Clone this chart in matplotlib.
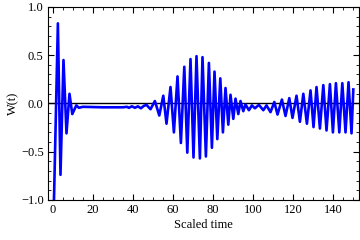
import matplotlib
matplotlib.use("Agg")
import matplotlib.pyplot as plt
from matplotlib.ticker import MultipleLocator

# scaled time and W(t) (extrema and a few in-between points)
t_vals = [0.5, 2.5, 3.8, 5.3, 6.8, 8.3, 9.7, 11.7, 13.0, 15.0, 25.0, 35.0,
          37.0, 38.0, 39.5, 41.0, 42.5, 44.0, 45.5, 46.8, 48.8, 51.0, 53.2,
          55.2, 56.8, 58.8, 60.5, 62.3, 64.0, 65.7, 67.2, 68.8, 70.3, 71.8,
          73.5, 74.8, 76.5, 78.0, 79.5, 80.8, 82.2, 83.7, 85.0, 86.3, 87.7,
          88.8, 90.2, 91.3, 92.7, 93.8, 95.2, 96.3, 98.0, 99.5, 101.0, 103.0,
          105.2, 106.8, 108.8, 110.7, 112.3, 114.5, 116.3, 118.2, 119.8, 121.8,
          123.5, 125.2, 127.0, 128.8, 130.3, 131.8, 133.5, 135.2, 136.8, 138.5,
          140.0, 141.5, 143.2, 144.7, 146.3, 147.8, 149.3, 150.2]
w_vals = [-1.05, 0.83, -0.74, 0.45, -0.31, 0.10, -0.11, -0.02, -0.045, -0.035, -0.04, -0.04,
          -0.035, -0.045, -0.03, -0.045, -0.03, -0.05, -0.025, -0.015, -0.06, 0.025, -0.125,
          0.08, -0.21, 0.17, -0.30, 0.28, -0.41, 0.38, -0.51, 0.46, -0.56, 0.49,
          -0.57, 0.48, -0.55, 0.42, -0.46, 0.33, -0.37, 0.26, -0.30, 0.16, -0.22,
          0.09, -0.16, 0.05, -0.11, 0.025, -0.08, -0.01, -0.07, -0.02, -0.05, -0.015,
          -0.07, -0.02, -0.09, 0.015, -0.115, 0.04, -0.13, 0.055, -0.15, 0.08,
          -0.19, 0.10, -0.21, 0.135, -0.245, 0.17, -0.26, 0.19, -0.28, 0.20,
          -0.30, 0.21, -0.30, 0.21, -0.30, 0.22, -0.31, 0.145]

plt.rcParams['font.family'] = ['Liberation Serif', 'DejaVu Serif']

fig = plt.figure(figsize=(3.6, 2.4), dpi=100)
ax = fig.add_axes([0.133, 0.167, 0.864, 0.804])

ax.axhline(0, color='k', lw=1.0, zorder=1)
ax.plot(t_vals, w_vals, color='#0000ff', lw=1.9, solid_joinstyle='round', zorder=2)

ax.set_xlim(-2.5, 153)
ax.set_ylim(-1, 1)
ax.xaxis.set_major_locator(MultipleLocator(20))
ax.xaxis.set_minor_locator(MultipleLocator(5))
ax.yaxis.set_major_locator(MultipleLocator(0.5))
ax.yaxis.set_minor_locator(MultipleLocator(0.1))
ax.yaxis.set_major_formatter(plt.FuncFormatter(lambda v, p: "{:.1f}".format(v).replace("-", "\u2212")))
ax.tick_params(which='both', direction='in', top=True, right=True, labelsize=9, pad=3)
ax.tick_params(which='major', length=4, width=0.8)
ax.tick_params(which='minor', length=2, width=0.6)

ax.set_xlabel('Scaled time', fontsize=9, labelpad=2)
ax.set_ylabel('W(t)', fontsize=9, labelpad=1)

fig.savefig('out.png', dpi=100)
